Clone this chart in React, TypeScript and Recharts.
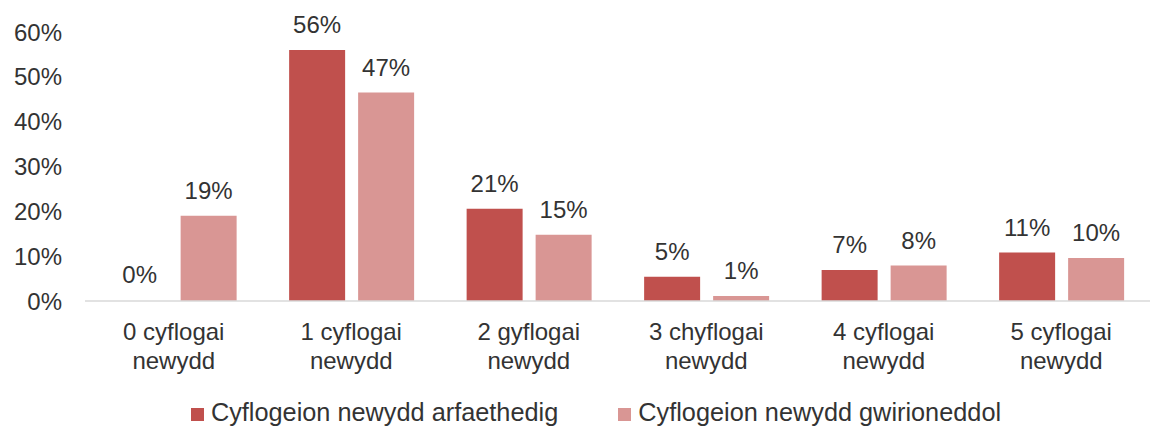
import { BarChart, Bar, XAxis, YAxis, Legend, LabelList, Rectangle } from 'recharts'

const categories = [
  '0 cyflogai newydd',
  '1 cyflogai newydd',
  '2 gyflogai newydd',
  '3 chyflogai newydd',
  '4 cyflogai newydd',
  '5 cyflogai newydd',
]
const planned = [0, 56, 20.6, 5.4, 6.9, 10.8]
const actual = [19, 46.5, 14.8, 1.1, 7.9, 9.6]
const yTicks = [0, 10, 20, 30, 40, 50, 60]

const data = categories.map((name, i) => ({
  name,
  planned: planned[i],
  actual: actual[i],
}))

const FONT = 'Arial, "Liberation Sans", sans-serif'
const TEXT = '#333333'
const FS = 24

function CategoryTick({ x, y, payload }: any) {
  const words = String(payload.value).split(' ')
  const first = words.slice(0, 2).join(' ')
  const rest = words.slice(2).join(' ')
  return (
    <text x={x} y={y} textAnchor="middle" fill={TEXT} fontSize={FS} fontFamily={FONT}>
      <tspan x={x} dy={31}>{first}</tspan>
      <tspan x={x} dy={29}>{rest}</tspan>
    </text>
  )
}

function TopLabel({ x, y, width, value }: any) {
  return (
    <text
      x={Number(x) + Number(width) / 2}
      y={Number(y) - 17}
      textAnchor="middle"
      fill={TEXT}
      fontSize={FS}
      fontFamily={FONT}
    >
      {`${Math.round(Number(value))}%`}
    </text>
  )
}

// zero-value bars keep a 1px slot so their label still shows, but draw nothing
const BarShape = (props: any) => (Number(props.value) === 0 ? <g /> : <Rectangle {...props} />)

export default function App() {
  return (
    <div style={{ width: 1153, height: 428, background: '#fff' }}>
      <style>{'body{margin:0}'}</style>
      <BarChart
        width={1153}
        height={428}
        data={data}
        margin={{ top: 32, right: 3, bottom: 0, left: 0 }}
        barCategoryGap="15%"
        barGap={13}
      >
        <XAxis
          dataKey="name"
          axisLine={{ stroke: '#d9d9d9', strokeWidth: 1.5 }}
          tickLine={false}
          tick={<CategoryTick />}
          height={78}
          interval={0}
        />
        <YAxis
          domain={[0, 60]}
          ticks={yTicks}
          tickFormatter={(v) => `${v}%`}
          axisLine={false}
          tickLine={false}
          tickSize={0}
          tickMargin={23}
          width={85}
          tick={{ fill: TEXT, fontSize: FS, fontFamily: FONT }}
        />
        <Legend
          verticalAlign="bottom"
          iconType="square"
          iconSize={13}
          height={49}
          wrapperStyle={{ fontFamily: FONT, fontSize: 25.3, color: TEXT, top: 398, left: 26 }}
          formatter={(value, _entry, index) => (
            <span style={{ color: TEXT, marginRight: index === 0 ? 50 : 0, marginLeft: 3 }}>{value}</span>
          )}
        />
        <Bar
          dataKey="planned"
          name="Cyflogeion newydd arfaethedig"
          fill="#C0504D"
          minPointSize={1}
          shape={BarShape}
          isAnimationActive={false}
        >
          <LabelList dataKey="planned" content={<TopLabel />} />
        </Bar>
        <Bar
          dataKey="actual"
          name="Cyflogeion newydd gwirioneddol"
          fill="#D99694"
          minPointSize={1}
          shape={BarShape}
          isAnimationActive={false}
        >
          <LabelList dataKey="actual" content={<TopLabel />} />
        </Bar>
      </BarChart>
    </div>
  )
}
